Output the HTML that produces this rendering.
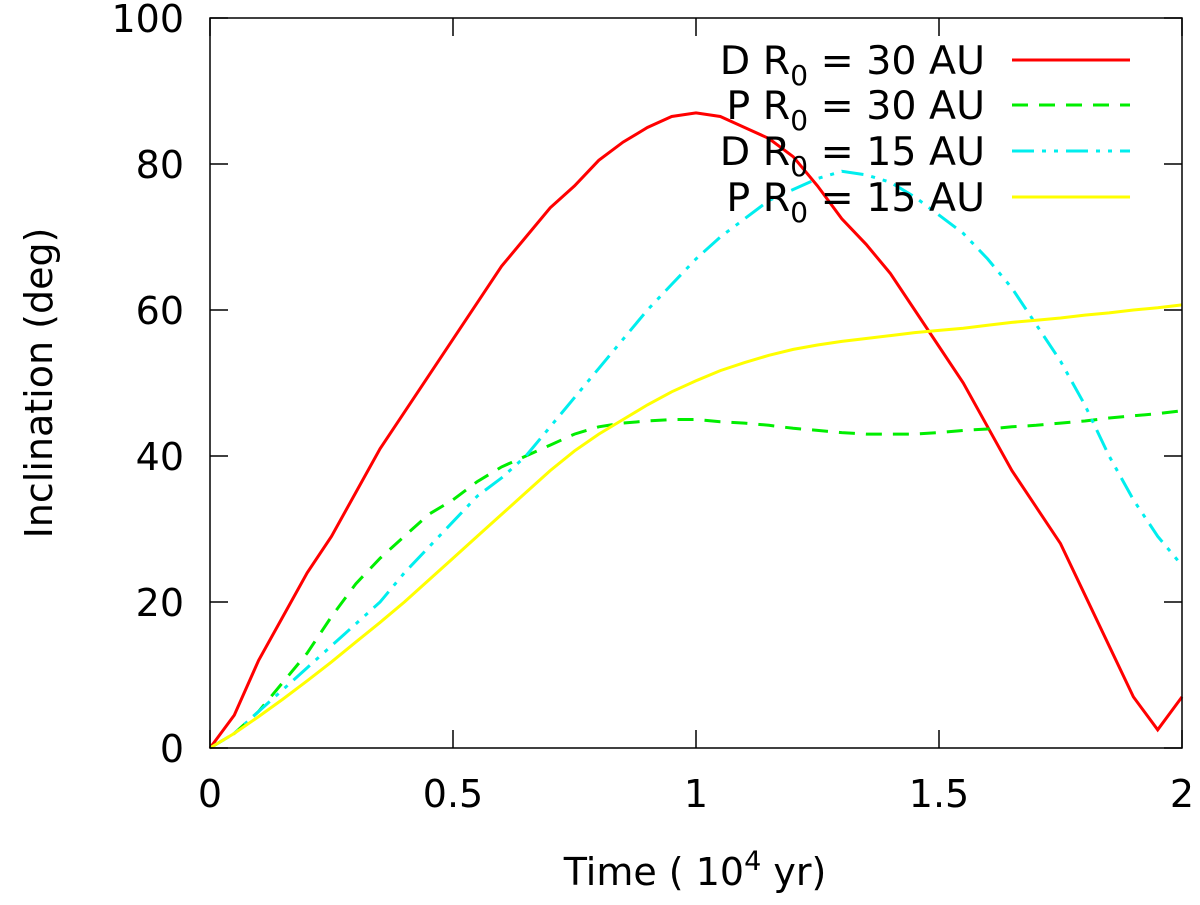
<!DOCTYPE html>
<html><head><meta charset="utf-8"><style>
html,body{margin:0;padding:0;background:#fff;}
svg{display:block;font-family:"DejaVu Sans","Liberation Sans",sans-serif;}
</style></head><body>
<svg id="chart" width="1200" height="905"></svg>
<script>
const times=[0,0.05,0.1,0.15,0.2,0.25,0.3,0.35,0.4,0.45,0.5,0.55,0.6,0.65,0.7,0.75,0.8,0.85,0.9,0.95,1.0,1.05,1.1,1.15,1.2,1.25,1.3,1.35,1.4,1.45,1.5,1.55,1.6,1.65,1.7,1.75,1.8,1.85,1.9,1.95,2.0];
const d30=[0,4.5,12,18,24,29,35,41,46,51,56,61,66,70,74,77,80.5,83,85,86.5,87,86.5,85,83.5,81,77,72.5,69,65,60,55,50,44,38,33,28,21,14,7,2.5,7];
const p30=[0,2,5,9,13,18,22.5,26,29,32,34,36.5,38.5,40,41.5,43,44,44.5,44.8,45,45,44.7,44.5,44.2,43.8,43.5,43.2,43,43,43,43.2,43.5,43.7,44,44.2,44.5,44.8,45.2,45.5,45.8,46.2];
const d15=[0,2,5,8,11,14,17,20,24,27.5,31,34.5,37,40,44,48,52,56,60,63.5,67,70,72.5,75,76.5,78,79,78.5,77.5,75.5,73,70.5,67,63,58,53,47,40,34,29,25];
const p15=[0,2,4.3,6.7,9.2,11.8,14.5,17.2,20,23,26,29,32,35,38,40.7,43,45,47,48.8,50.3,51.7,52.8,53.8,54.6,55.2,55.7,56.1,56.5,56.9,57.2,57.5,57.9,58.3,58.6,58.9,59.3,59.6,60,60.3,60.7];
const xTicks=[0,0.5,1,1.5,2];
const xTickLabels=["0","0.5","1","1.5","2"];
const yTicks=[0,20,40,60,80,100];
const yTickLabels=["0","20","40","60","80","100"];
const seriesNames=["D","P","D","P"];
const seriesR0=["30","30","15","15"];

const L=210,R=1182,T=18,B=748;
const xs=v=>L+(v-0)/(2-0)*(R-L);
const ys=v=>B-(v-0)/(100-0)*(B-T);
const svg=document.getElementById('chart');
const NS='http://www.w3.org/2000/svg';
function mk(tag,attrs,parent){const e=document.createElementNS(NS,tag);for(const k in attrs)e.setAttribute(k,attrs[k]);(parent||svg).appendChild(e);return e;}

const styles=[
 {c:'#ff0000',d:'',name:'series-d-30au'},
 {c:'#00ee00',d:'16,11',name:'series-p-30au'},
 {c:'#00eeee',d:'22,8,4,8,4,8',name:'series-d-15au'},
 {c:'#ffff00',d:'',name:'series-p-15au'}];
const data=[d30,p30,d15,p15];
data.forEach((arr,i)=>{
 const pts=arr.map((v,j)=>xs(times[j]).toFixed(1)+','+ys(v).toFixed(1)).join(' ');
 const p=mk('polyline',{points:pts,fill:'none',stroke:styles[i].c,'stroke-width':3,'stroke-dasharray':styles[i].d});
 
 
});

const fr=mk('rect',{x:L,y:T,width:R-L,height:B-T,fill:'none',stroke:'#000','stroke-width':1.5});



xTicks.forEach((v,i)=>{
 const x=xs(v);
 mk('line',{x1:x,y1:B,x2:x,y2:B-18,stroke:'#000','stroke-width':1.5});
 mk('line',{x1:x,y1:T,x2:x,y2:T+18,stroke:'#000','stroke-width':1.5});
 const t=mk('text',{x:x,y:807,'text-anchor':'middle','font-size':38});
 t.textContent=xTickLabels[i];
 
 
});
yTicks.forEach((v,i)=>{
 const y=ys(v);
 mk('line',{x1:L,y1:y,x2:L+18,y2:y,stroke:'#000','stroke-width':1.5});
 mk('line',{x1:R,y1:y,x2:R-18,y2:y,stroke:'#000','stroke-width':1.5});
 const t=mk('text',{x:184,y:y+14,'text-anchor':'end','font-size':38});
 t.textContent=yTickLabels[i];
 
 
});

const xt=mk('text',{x:695,y:885,'text-anchor':'middle','font-size':38});
xt.innerHTML='Time ( 10<tspan dy="-15" font-size="27">4</tspan><tspan dy="15"> yr)</tspan>';


const yt=mk('text',{x:52,y:383,'text-anchor':'middle','font-size':38,transform:'rotate(-90 52 383)'});
yt.textContent='Inclination (deg)';



const ly=[60,105,151,197];
styles.forEach((s,i)=>{
 const t=mk('text',{x:985,y:ly[i]+14,'text-anchor':'end','font-size':39.5});
 t.innerHTML=seriesNames[i]+' R<tspan dy="11" font-size="28">0</tspan><tspan dy="-11"> = '+seriesR0[i]+' AU</tspan>';
 
 
 const l=mk('line',{x1:1012,y1:ly[i],x2:1130,y2:ly[i],stroke:s.c,'stroke-width':3,'stroke-dasharray':s.d});
 
 
});
</script>
</body></html>
